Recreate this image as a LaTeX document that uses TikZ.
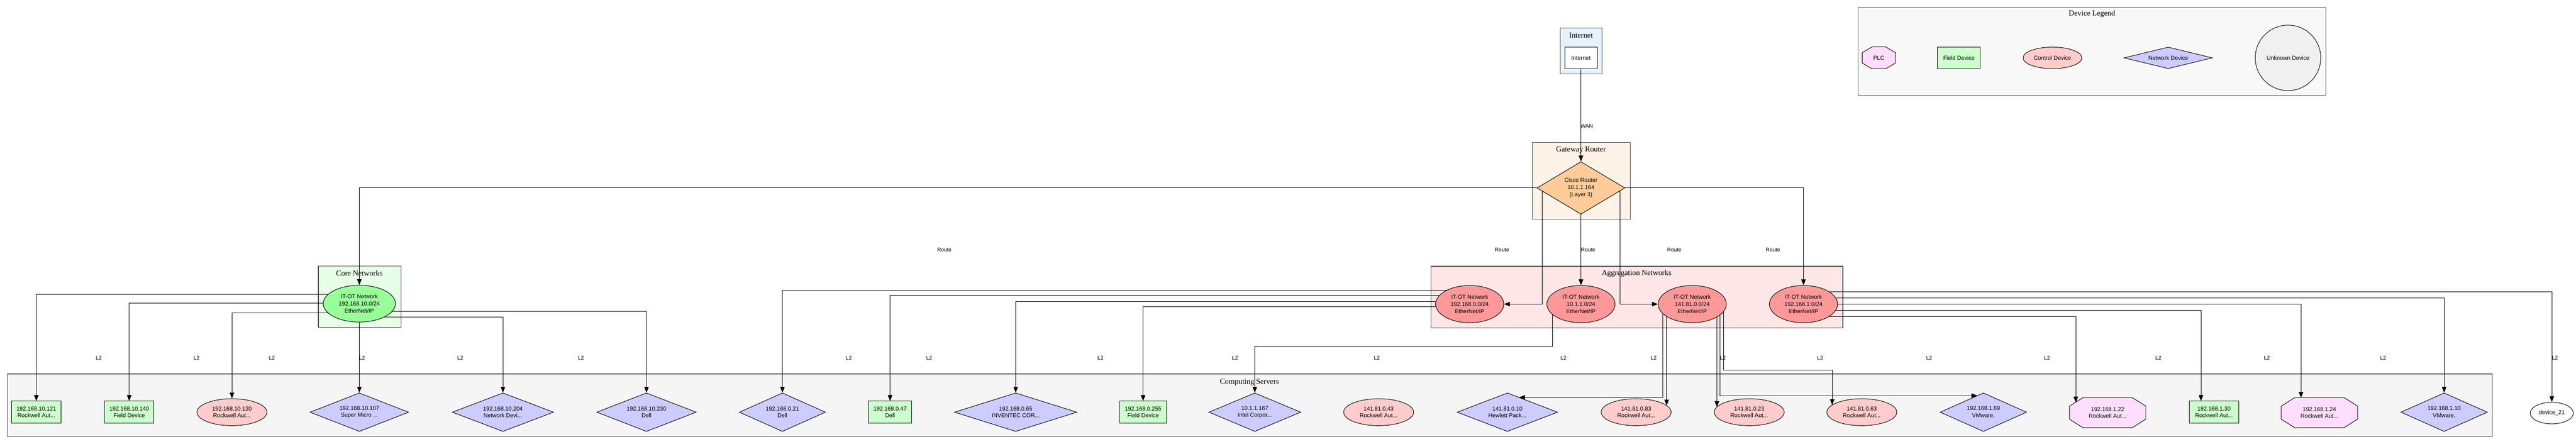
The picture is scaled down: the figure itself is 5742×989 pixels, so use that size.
\documentclass[tikz,border=0pt]{standalone}
\usepackage{fontspec}
\setmainfont{Liberation Serif}
\newfontfamily\arialf{Liberation Sans}
\usetikzlibrary{shapes.geometric,arrows.meta,calc}
\pgfdeclarelayer{bg}
\pgfdeclarelayer{edges}
\pgfdeclarelayer{octa}
\pgfsetlayers{bg,edges,octa,main}

\definecolor{inetc}{HTML}{E6F2FF}
\definecolor{gwc}{HTML}{FFF2E6}
\definecolor{corec}{HTML}{E6FFE6}
\definecolor{aggclc}{HTML}{FFE6E6}
\definecolor{compc}{HTML}{F5F5F5}
\definecolor{legc}{HTML}{F8F8F8}
\definecolor{routerc}{HTML}{FFCC99}
\definecolor{coreellc}{HTML}{99FF99}
\definecolor{aggc}{HTML}{FF9999}
\definecolor{fieldc}{HTML}{CCFFCC}
\definecolor{ctrlc}{HTML}{FFCCCC}
\definecolor{netc}{HTML}{CCCCFF}
\definecolor{plcc}{HTML}{FFDDFF}
\definecolor{unkc}{HTML}{F0F0F0}
\definecolor{clborder}{HTML}{4D4D4D}

\newcommand{\mydevfont}{\fontsize{12.7}{15.8}\selectfont\arialf}
\newcommand{\drawocta}[3]{%
  \filldraw[octdraw] ($(#1.north west)+(#2,0)$) -- ($(#1.north east)+(-#2,0)$) -- ($(#1.north east)+(0,#3)$) -- ($(#1.south east)+(0,-#3)$) -- ($(#1.south east)+(-#2,0)$) -- ($(#1.south west)+(#2,0)$) -- ($(#1.south west)+(0,-#3)$) -- ($(#1.north west)+(0,#3)$) -- cycle;}

\tikzset{
  dev/.style={draw=black, line width=1.1pt, inner sep=0pt, align=center, font=\mydevfont},
  fieldbox/.style={dev, rectangle, fill=fieldc, minimum height=49},
  ctrlbox/.style={dev, ellipse, fill=ctrlc, minimum width=156, minimum height=60},
  netbox/.style={dev, diamond, aspect=2.5, fill=netc, minimum height=86},
  plcbox/.style={dev, draw=none, rectangle, minimum width=169, minimum height=66},
  octdraw/.style={draw=black, line width=1.1pt, fill=plcc},
  netell/.style={dev, ellipse, fill=aggc, minimum width=152, minimum height=83},
  cluster/.style={draw=clborder, line width=1.4pt, anchor=north west, inner sep=0pt},
  clabel/.style={font=\fontsize{17}{20}\selectfont, inner sep=0pt},
  elabel/.style={font=\fontsize{12}{14}\selectfont\arialf, inner sep=0pt},
  edge/.style={line width=1.1pt, -{Triangle[length=13pt,width=10pt]}},
}

\begin{document}
\begin{tikzpicture}[x=1pt,y=-1pt]
\useasboundingbox (0,0) rectangle (5742,989);

% ---------- clusters ----------
\begin{pgfonlayer}{bg}
\fill[white] (0,0) rectangle (5742,989);
\node[cluster, fill=inetc, minimum width=93.5, minimum height=102] (clInternet) at (3477,62) {};
\node[clabel] (lbInternet) at (3524,79) {Internet};
\node[cluster, fill=gwc, minimum width=218, minimum height=171] (clGateway) at (3415,317) {};
\node[clabel] (lbGateway) at (3524,334) {Gateway Router};
\node[cluster, fill=corec, minimum width=184, minimum height=137] (clCore) at (709,592) {};
\node[clabel] (lbCore) at (801,609) {Core Networks};
\node[cluster, fill=aggclc, minimum width=918, minimum height=137] (clAgg) at (3189,593) {};
\node[clabel] (lbAgg) at (3648,610) {Aggregation Networks};
\node[cluster, fill=compc, minimum width=5539, minimum height=140] (clComp) at (16,833) {};
\node[clabel] (lbComp) at (2785,852) {Computing Servers};
\node[cluster, fill=legc, minimum width=1043, minimum height=196] (clLegend) at (4141,16) {};
\node[clabel] (lbLegend) at (4663,31) {Device Legend};
\end{pgfonlayer}

% ---------- top nodes ----------
\node[dev, rectangle, fill=white, minimum width=72.5, minimum height=48] (inet) at (3524,129) {Internet};
\node[dev, diamond, aspect=1.7, fill=routerc, minimum width=196, minimum height=117] (router) at (3524,419) {Cisco Router\\10.1.1.164\\(Layer 3)};
\node[dev, ellipse, fill=coreellc, minimum width=161, minimum height=82] (core) at (801,677) {IT-OT Network\\192.168.10.0/24\\EtherNet/IP};
\node[netell] (agg0) at (3276,678) {IT-OT Network\\192.168.0.0/24\\EtherNet/IP};
\node[netell] (agg1) at (3524,678) {IT-OT Network\\10.1.1.0/24\\EtherNet/IP};
\node[netell] (agg141) at (3772,678) {IT-OT Network\\141.81.0.0/24\\EtherNet/IP};
\node[netell] (agg1921) at (4020,678) {IT-OT Network\\192.168.1.0/24\\EtherNet/IP};

% ---------- bottom nodes ----------
\node[fieldbox, minimum width=111] (n121) at (81,919) {192.168.10.121\\Rockwell Aut...};
\node[fieldbox, minimum width=110] (n140) at (288,919) {192.168.10.140\\Field Device};
\node[ctrlbox] (n120) at (517,919) {192.168.10.120\\Rockwell Aut...};
\node[netbox, minimum width=220] (n107) at (801,919) {192.168.10.107\\Super Micro ...};
\node[netbox, minimum width=226] (n204) at (1121,919) {192.168.10.204\\Network Devi...};
\node[netbox, minimum width=222] (n230) at (1441,919) {192.168.10.230\\Dell};
\node[netbox, minimum width=192] (n021) at (1744,919) {192.168.0.21\\Dell};
\node[fieldbox, minimum width=97] (n047) at (1984,919) {192.168.0.47\\Dell};
\node[netbox, minimum width=273] (n065) at (2264,919) {192.168.0.65\\INVENTEC COR...};
\node[fieldbox, minimum width=104] (n0255) at (2548,919) {192.168.0.255\\Field Device};
\node[netbox, minimum width=205] (n1167) at (2797,919) {10.1.1.167\\Intel Corpor...};
\node[ctrlbox] (n043) at (3073,919) {141.81.0.43\\Rockwell Aut...};
\node[netbox, minimum width=224] (n010) at (3360,919) {141.81.0.10\\Hewlett Pack...};
\node[ctrlbox] (n083) at (3647,919) {141.81.0.83\\Rockwell Aut...};
\node[ctrlbox] (n023) at (3899,919) {141.81.0.23\\Rockwell Aut...};
\node[ctrlbox] (n063) at (4150,919) {141.81.0.63\\Rockwell Aut...};
\node[netbox, minimum width=193] (n169) at (4421,919) {192.168.1.69\\VMware,};
\node[plcbox] (n122) at (4698,920) {192.168.1.22\\Rockwell Aut...};
\node[fieldbox, minimum width=110] (n130) at (4935,919) {192.168.1.30\\Rockwell Aut...};
\node[plcbox] (n124) at (5170,920) {192.168.1.24\\Rockwell Aut...};
\node[netbox, minimum width=193] (n110) at (5448,919) {192.168.1.10\\VMware,};
\node[dev, ellipse, fill=white, minimum width=96, minimum height=48] (dev21) at (5688,921) {device\_21};

% ---------- legend ----------
\node[plcbox, minimum width=73, minimum height=48] (lgPLC) at (4188,129) {PLC};
\node[fieldbox, minimum width=95, minimum height=48] (lgField) at (4366.5,129) {Field Device};
\node[dev, ellipse, fill=ctrlc, minimum width=131, minimum height=48] (lgCtrl) at (4575,129) {Control Device};
\node[dev, diamond, aspect=4, fill=netc, minimum width=197, minimum height=48] (lgNet) at (4833,129) {Network Device};
\node[dev, circle, fill=unkc, minimum size=146] (lgUnk) at (5100,129) {Unknown Device};

\begin{pgfonlayer}{octa}
\drawocta{n122}{30}{19}
\drawocta{n124}{30}{19}
\drawocta{lgPLC}{22}{13}
\end{pgfonlayer}

% ---------- edges ----------
\begin{pgfonlayer}{edges}
\draw[edge] (inet) -- (router);
% routes
\draw[edge] (router) -| (core);
\draw[edge] ($(router)+(-86,0)$) |- (agg0);
\draw[edge] (router) -- (agg1);
\draw[edge] ($(router)+(87,0)$) |- (agg141);
\draw[edge] (router) -| (agg1921);
% core network
\draw[edge] ($(core)+(0,-21)$) -| (n121);
\draw[edge] ($(core)+(0,-1)$) -| (n140);
\draw[edge] ($(core)+(0,21)$) -| (n120);
\draw[edge] (core) -- (n107);
\draw[edge] ($(core)+(0,30)$) -| (n204);
\draw[edge] ($(core)+(0,17)$) -| (n230);
% 192.168.0.0/24
\draw[edge] ($(agg0)+(0,-31)$) -| (n021);
\draw[edge] ($(agg0)+(0,-20)$) -| (n047);
\draw[edge] ($(agg0)+(0,-6)$) -| (n065);
\draw[edge] ($(agg0)+(0,6)$) -| (n0255);
% 10.1.1.0/24
\draw[edge] ($(agg1)+(-63,0)$) |- (n1167 |- 0,772) -- (n1167);
% 141.81.0.0/24
\draw[edge] ($(agg141)+(-66,0)$) |- ($(n010)+(26,-33)$);
\draw[edge] ($(agg141)+(-57,0)$) -- ($(n083)+(68,-15)$);
\draw[edge] ($(agg141)+(55,0)$) -- ($(n023)+(-72,-11.5)$);
\draw[edge] ($(agg141)+(62,0)$) |- ($(n169)+(-13.5,-37)$);
\draw[edge] ($(agg141)+(70,0)$) |- ($(n063)+(-66,-94)$) -- ($(n063)+(-66,-16)$);
% 192.168.1.0/24
\draw[edge] ($(agg1921)+(0,-27)$) -| (dev21);
\draw[edge] ($(agg1921)+(0,-14)$) -| (n110);
\draw[edge] (agg1921) -| ($(n124)+(-41,-33)$);
\draw[edge] ($(agg1921)+(0,14)$) -| ($(n130)+(-29,-25)$);
\draw[edge] ($(agg1921)+(0,28)$) -| ($(n122)+(-71,-22.5)$);
\end{pgfonlayer}

% ---------- edge labels ----------
\node[elabel] (wanlab) at (3537,281) {WAN};
\foreach \x [count=\i] in {2105,3348,3540,3732,3952}
  \node[elabel] (route\i) at (\x,557) {Route};
\foreach \x [count=\i] in {220,438,606,807,1026,1295,1892,2071,2453,2753,3069,3485,3686,3840,4057,4300,4563,4811,5053,5312,5695}
  \node[elabel] (ltwo\i) at (\x,798) {L2};
\end{tikzpicture}
\end{document}
